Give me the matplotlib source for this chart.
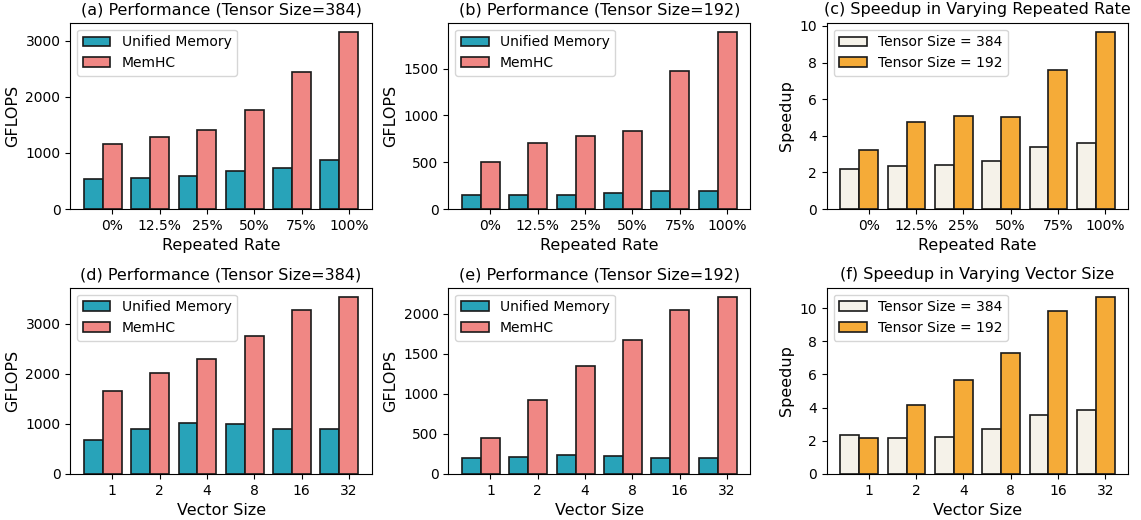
import matplotlib
matplotlib.use("Agg")
import matplotlib.pyplot as plt
import numpy as np

rate_labels = ["0%", "12.5%", "25%", "50%", "75%", "100%"]
vec_labels = ["1", "2", "4", "8", "16", "32"]

# (a) Tensor Size 384, repeated rate
a_um = [529, 547, 588, 671, 725, 873]
a_memhc = [1152, 1277, 1408, 1764, 2442, 3166]
# (b) Tensor Size 192, repeated rate
b_um = [153, 146, 153, 167, 192, 196]
b_memhc = [498, 700, 782, 832, 1472, 1895]
# (c) speedup repeated rate
c_384 = [2.18, 2.33, 2.40, 2.62, 3.38, 3.62]
c_192 = [3.25, 4.76, 5.09, 5.02, 7.60, 9.69]
# (d) Tensor Size 384, vector size
d_um = [687, 907, 1020, 993, 907, 907]
d_memhc = [1647, 2007, 2293, 2753, 3267, 3540]
# (e) Tensor Size 192, vector size
e_um = [204, 217, 237, 225, 204, 200]
e_memhc = [454, 929, 1354, 1679, 2046, 2217]
# (f) speedup vector size
f_384 = [2.37, 2.19, 2.23, 2.74, 3.56, 3.84]
f_192 = [2.15, 4.14, 5.65, 7.30, 9.80, 10.70]

TEAL = "#28A3B9"
PINK = "#F08784"
CREAM = "#F5F2E9"
ORANGE = "#F5AB38"

fig, axes = plt.subplots(2, 3, figsize=(11.41, 5.2), dpi=100)
fig.subplots_adjust(left=0.0615, right=0.989, top=0.9563, bottom=0.0885,
                    wspace=0.253, hspace=0.422)

w = 0.4

def panel(ax, s1, s2, labels, names, colors, title, xlabel, ylabel):
    x = np.arange(len(labels))
    ax.bar(x, s1, w, color=colors[0], edgecolor="#1a1a1a", linewidth=1.2, label=names[0])
    ax.bar(x + w, s2, w, color=colors[1], edgecolor="#1a1a1a", linewidth=1.2, label=names[1])
    ax.set_xticks(x + w)
    ax.set_xticklabels(labels, fontsize=10)
    ax.tick_params(axis="y", labelsize=10)
    ax.set_title(title, fontsize=11.5)
    ax.set_xlabel(xlabel, fontsize=11.5)
    ax.set_ylabel(ylabel, fontsize=11.5)
    ax.legend(loc="upper left", fontsize=10)

perf = ("Unified Memory", "MemHC")
spd = ("Tensor Size = 384", "Tensor Size = 192")

panel(axes[0, 0], a_um, a_memhc, rate_labels, perf, (TEAL, PINK),
      "(a) Performance (Tensor Size=384)", "Repeated Rate", "GFLOPS")
panel(axes[0, 1], b_um, b_memhc, rate_labels, perf, (TEAL, PINK),
      "(b) Performance (Tensor Size=192)", "Repeated Rate", "GFLOPS")
panel(axes[0, 2], c_384, c_192, rate_labels, spd, (CREAM, ORANGE),
      "(c) Speedup in Varying Repeated Rate", "Repeated Rate", "Speedup")
panel(axes[1, 0], d_um, d_memhc, vec_labels, perf, (TEAL, PINK),
      "(d) Performance (Tensor Size=384)", "Vector Size", "GFLOPS")
panel(axes[1, 1], e_um, e_memhc, vec_labels, perf, (TEAL, PINK),
      "(e) Performance (Tensor Size=192)", "Vector Size", "GFLOPS")
panel(axes[1, 2], f_384, f_192, vec_labels, spd, (CREAM, ORANGE),
      "(f) Speedup in Varying Vector Size", "Vector Size", "Speedup")

axes[0, 2].set_yticks([0, 2, 4, 6, 8, 10])
axes[1, 2].set_yticks([0, 2, 4, 6, 8, 10])

fig.savefig("out.png", dpi=100)
